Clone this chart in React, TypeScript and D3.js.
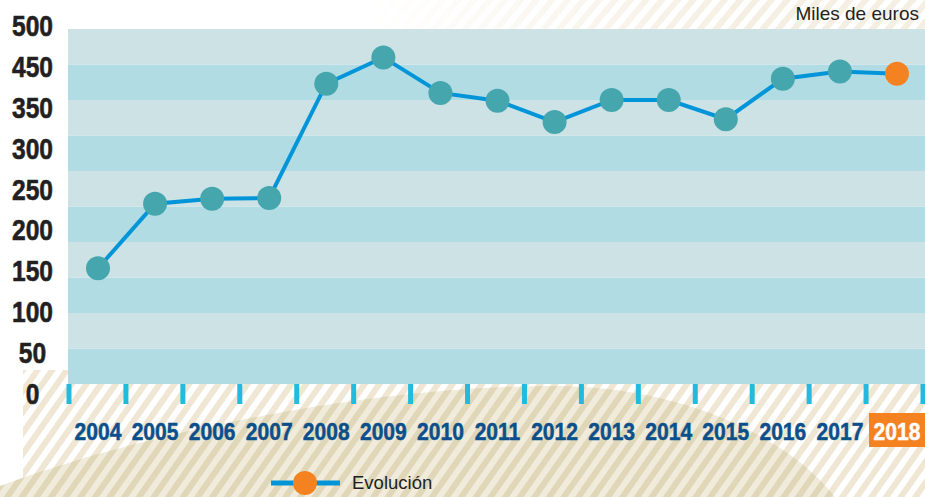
import React from "react";
import * as d3 from "d3";

const years = ["2004","2005","2006","2007","2008","2009","2010","2011","2012","2013","2014","2015","2016","2017","2018"];
const values = [163, 254, 261, 262, 423, 460, 410, 399, 369, 400, 400, 373, 430, 440, 437];
const yTickLabels = ["500","450","350","300","250","200","150","100","50","0"];
const bandStarts = [0, 50, 100, 150, 200, 250, 300, 350, 400, 450];
const unitLabel = "Miles de euros";
const legendLabel = "Evolución";

const W = 925, H = 497;
const bold = "'Liberation Sans', Arial, sans-serif";
const regular = "'Liberation Sans', Arial, sans-serif";

export default function App() {
  const y = d3.scaleLinear().domain([0, 500]).range([384, 29]);
  const x = d3.scalePoint<string>().domain(years).range([98, 897]);
  const xb = d3.scaleBand<string>().domain(years).range([69, 923]);
  const yl = d3.scalePoint<string>().domain(yTickLabels).range([25, 393]);
  const line = d3.line<number>().x((_, i) => x(years[i])!).y((d) => y(d));
  const tickXs = [...years.map((yr) => xb(yr)!), xb(years[years.length - 1])! + xb.bandwidth()];
  const last = years[years.length - 1];

  return (
    <svg width={W} height={H} style={{ position: "absolute", left: 0, top: 0 }}>
      <defs>
        <pattern id="light" width="12" height="12" patternUnits="userSpaceOnUse" patternTransform="rotate(35)">
          <rect width="12" height="12" fill="#ffffff" />
          <rect width="6" height="12" fill="#efe6d3" />
        </pattern>
        <pattern id="dark" width="12" height="12" patternUnits="userSpaceOnUse" patternTransform="rotate(35)">
          <rect width="12" height="12" fill="#f1ebdb" />
          <rect width="6" height="12" fill="#e0d6b8" />
        </pattern>
        <pattern id="faint" width="12" height="12" patternUnits="userSpaceOnUse" patternTransform="rotate(40)">
          <rect width="12" height="12" fill="#ffffff" />
          <rect width="6" height="12" fill="#f5efe3" />
        </pattern>
        <linearGradient id="fadeG" x1="0" x2="1" y1="0" y2="0">
          <stop offset="0.4" stopColor="#fff" stopOpacity="0" />
          <stop offset="0.8" stopColor="#fff" stopOpacity="1" />
        </linearGradient>
        <mask id="fadeM">
          <rect x="0" y="0" width={W} height="30" fill="url(#fadeG)" />
        </mask>
      </defs>
      <rect width={W} height={H} fill="#ffffff" />
      <rect x="0" y="0" width={W} height="30" fill="url(#faint)" mask="url(#fadeM)" />
      <rect x="23" y="370" width={W - 23} height={H - 370} fill="url(#light)" />
      <path d="M0,486 C150,430 380,385 560,386 C690,388 790,440 835,497 L0,497 Z" fill="url(#dark)" />

      {bandStarts.map((v, i) => (
        <rect key={v} x={68} y={y(v + 50)} width={W - 68} height={y(v) - y(v + 50)} fill={i % 2 === 0 ? "#b1dce3" : "#cce2e5"} />
      ))}

      {tickXs.map((tx, i) => (
        <rect key={i} x={tx - 2.5} y={384} width={5} height={20} fill="#22bbdd" />
      ))}

      {yTickLabels.map((t) => (
        <text key={t} transform={`translate(32.5,${yl(t)! + 11}) scale(0.82,1)`} textAnchor="middle" fontFamily={bold} fontWeight="bold" fontSize={30} fill="#231f20" stroke="#231f20" strokeWidth={0.6}>{t}</text>
      ))}

      <rect x={x(last)! - 28} y={413} width={W - (x(last)! - 28)} height={34} fill="#f58220" />
      {years.map((yr) => (
        <text key={yr} transform={`translate(${x(yr)},440) scale(0.86,1)`} textAnchor="middle" fontFamily={bold} fontWeight="bold" fontSize={24.5} fill={yr === last ? "#ffffff" : "#0b4f8b"} stroke={yr === last ? "#ffffff" : "#0b4f8b"} strokeWidth={0.5}>{yr}</text>
      ))}

      <path d={line(values)!} fill="none" stroke="#0095d9" strokeWidth={4} />
      {values.map((v, i) => (
        <circle key={years[i]} cx={x(years[i])} cy={y(v)} r={12} fill={i === values.length - 1 ? "#f58220" : "#45a6ad"} />
      ))}

      <text x={919} y={20} textAnchor="end" fontFamily={regular} fontSize={19} fill="#231f20">{unitLabel}</text>

      <line x1={271} x2={340} y1={483} y2={483} stroke="#0095d9" strokeWidth={5} />
      <circle cx={305} cy={483} r={12} fill="#f58220" />
      <text x={352} y={489} fontFamily={regular} fontSize={18.5} fill="#231f20">{legendLabel}</text>
    </svg>
  );
}
